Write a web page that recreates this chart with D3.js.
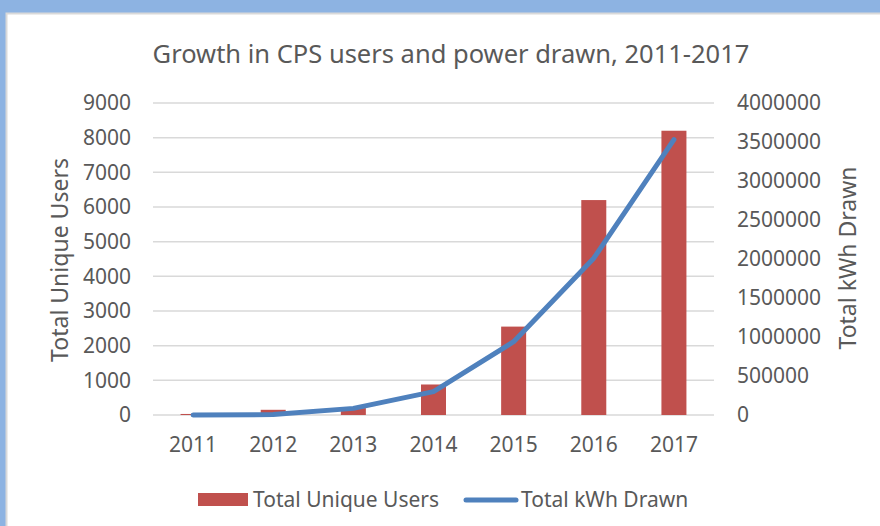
<!DOCTYPE html>
<html>
<head>
<meta charset="utf-8">
<script src="https://cdn.jsdelivr.net/npm/d3@7"></script>
<style>
  body { margin: 0; }
  text { font-family: "Noto Sans", "Open Sans", sans-serif; fill: #595959; }
</style>
</head>
<body>
<svg id="chart"></svg>
<script>
const years = ["2011", "2012", "2013", "2014", "2015", "2016", "2017"];
const users = [30, 150, 200, 880, 2550, 6200, 8200];
const kwh = [0, 5000, 85000, 300000, 940000, 2010000, 3530000];
const leftTicks = [0, 1000, 2000, 3000, 4000, 5000, 6000, 7000, 8000, 9000];
const rightTicks = [0, 500000, 1000000, 1500000, 2000000, 2500000, 3000000, 3500000, 4000000];

const width = 880, height = 526;
const margin = { top: 103, right: 166, bottom: 111, left: 153 };
const svg = d3.select("#chart").attr("width", width).attr("height", height);

// frame
svg.append("rect").attr("width", width).attr("height", height).attr("fill", "#8db3e2");
svg.append("rect").attr("x", 6.5).attr("y", 13.5).attr("width", width).attr("height", height)
  .attr("fill", "#fff").attr("stroke", "#d9d9d9").attr("stroke-width", 2);

const x = d3.scaleBand().domain(years).range([margin.left, width - margin.right]);
const yL = d3.scaleLinear().domain([0, 9000]).range([height - margin.bottom, margin.top]);
const yR = d3.scaleLinear().domain([0, 4000000]).range([height - margin.bottom, margin.top]);

// gridlines
svg.append("g").selectAll("line").data(leftTicks).join("line")
  .attr("x1", margin.left).attr("x2", width - margin.right)
  .attr("y1", d => yL(d)).attr("y2", d => yL(d))
  .attr("stroke", "#d9d9d9").attr("stroke-width", 1.5);

// bars
const barW = 25;
svg.append("g").selectAll("rect").data(users).join("rect")
  .attr("x", (d, i) => x(years[i]) + x.bandwidth() / 2 - barW / 2)
  .attr("width", barW)
  .attr("y", d => yL(d))
  .attr("height", d => yL(0) - yL(d))
  .attr("fill", "#c0504d");

// line
const line = d3.line().x((d, i) => x(years[i]) + x.bandwidth() / 2).y(d => yR(d));
svg.append("path").datum(kwh).attr("d", line)
  .attr("fill", "none").attr("stroke", "#4f81bd").attr("stroke-width", 5)
  .attr("stroke-linecap", "round").attr("stroke-linejoin", "round");

// axes
const axL = svg.append("g").attr("transform", `translate(${margin.left},0)`)
  .call(d3.axisLeft(yL).tickValues(leftTicks).tickSize(0).tickPadding(22).tickFormat(d3.format("d")));
const axR = svg.append("g").attr("transform", `translate(${width - margin.right},0)`)
  .call(d3.axisRight(yR).tickValues(rightTicks).tickSize(0).tickPadding(23).tickFormat(d3.format("d")));
const axB = svg.append("g").attr("transform", `translate(0,${height - margin.bottom})`)
  .call(d3.axisBottom(x).tickSize(0).tickPadding(22));
[axL, axR, axB].forEach(a => {
  a.select(".domain").remove();
  a.selectAll("text").attr("font-size", 21).attr("fill", "#595959")
    .style("font-family", '"Noto Sans", sans-serif');
});

// title
svg.append("text").attr("x", 451).attr("y", 63).attr("text-anchor", "middle")
  .attr("font-size", 25.5).text("Growth in CPS users and power drawn, 2011-2017");

// axis titles
svg.append("text").attr("transform", "translate(68,260) rotate(-90)")
  .attr("text-anchor", "middle").attr("font-size", 23).text("Total Unique Users");
svg.append("text").attr("transform", "translate(856,258) rotate(-90)")
  .attr("text-anchor", "middle").attr("font-size", 23).text("Total kWh Drawn");

// legend
const lg = svg.append("g");
lg.append("rect").attr("x", 198).attr("y", 493).attr("width", 50).attr("height", 13).attr("fill", "#c0504d");
lg.append("text").attr("x", 253).attr("y", 507).attr("font-size", 21).text("Total Unique Users");
lg.append("line").attr("x1", 466).attr("x2", 516).attr("y1", 500).attr("y2", 500)
  .attr("stroke", "#4f81bd").attr("stroke-width", 5).attr("stroke-linecap", "round");
lg.append("text").attr("x", 521).attr("y", 507).attr("font-size", 21).text("Total kWh Drawn");
</script>
</body>
</html>
